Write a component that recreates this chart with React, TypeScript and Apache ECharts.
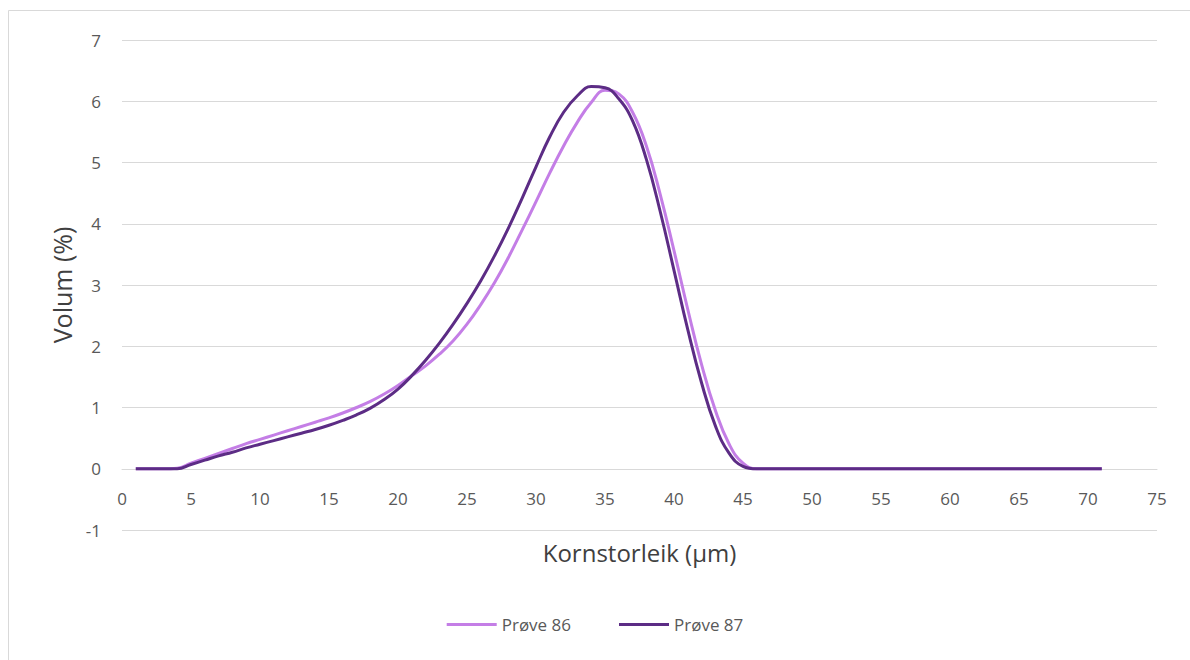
import React, { useEffect, useRef } from "react";
import * as echarts from "echarts";

// Grain size (µm) at which each volume fraction was measured
const sizes = [
  1, 2, 3, 4, 5, 6, 7, 8, 9, 10, 11, 12, 13, 14, 15, 16, 17, 18, 19, 20, 21, 22, 23,
  24, 25, 26, 27, 28, 29, 30, 31, 32, 33, 34, 35, 36, 37, 38, 39, 40, 41, 42, 43, 44,
  45, 46, 50, 55, 60, 65, 70, 71,
];

// Volume (%) per grain size
const prove86 = [
  0, 0, 0, 0.01, 0.09, 0.17, 0.25, 0.33, 0.41, 0.48, 0.55, 0.62, 0.69, 0.76, 0.83,
  0.91, 1.0, 1.1, 1.22, 1.36, 1.52, 1.68, 1.87, 2.09, 2.36, 2.68, 3.04, 3.45, 3.9,
  4.36, 4.83, 5.27, 5.66, 5.98, 6.18, 6.12, 5.82, 5.27, 4.48, 3.56, 2.6, 1.7, 0.95,
  0.4, 0.09, 0, 0, 0, 0, 0, 0, 0,
];

const prove87 = [
  0, 0, 0, 0, 0.07, 0.14, 0.21, 0.27, 0.34, 0.4, 0.46, 0.52, 0.58, 0.64, 0.71, 0.79,
  0.88, 0.99, 1.13, 1.3, 1.52, 1.77, 2.05, 2.36, 2.7, 3.07, 3.48, 3.93, 4.42, 4.93,
  5.42, 5.82, 6.09, 6.24, 6.22, 6.04, 5.68, 5.05, 4.2, 3.24, 2.27, 1.4, 0.7, 0.25, 0.04,
  0, 0, 0, 0, 0, 0, 0,
];

const seriesNames = ["Prøve 86", "Prøve 87"];
const seriesColors = ["#c47ee6", "#5c2c85"];

const FONT = "'Open Sans', 'Noto Sans', sans-serif";

export default function App() {
  const ref = useRef<HTMLDivElement>(null);

  useEffect(() => {
    if (!ref.current) return;
    const chart = echarts.init(ref.current, undefined, { renderer: "svg" });
    const pairs = (vals: number[]) => sizes.map((x, i) => [x, vals[i]]);

    // Plot area: y from -1 to 7 over 490 px, so the zero line sits 61.25 px above the bottom
    const plotHeight = 490;
    const zeroOffset = -plotHeight / 8;

    chart.setOption({
      animation: false,
      backgroundColor: "#ffffff",
      textStyle: { fontFamily: FONT },
      graphic: [
        {
          type: "rect",
          shape: { x: 8.5, y: 10.5, width: 1200, height: 700 },
          style: { fill: "none", stroke: "#d9d9d9", lineWidth: 1 },
          silent: true,
        },
      ],
      grid: { left: 122, right: 33, top: 40, height: plotHeight, containLabel: false },
      legend: {
        bottom: 22,
        left: "center",
        icon: "rect",
        itemWidth: 50,
        itemHeight: 3,
        itemGap: 48,
        textStyle: { color: "#595959", fontSize: 17, fontFamily: FONT },
        data: seriesNames,
      },
      xAxis: {
        type: "value",
        min: 0,
        max: 75,
        interval: 5,
        offset: zeroOffset,
        name: "Kornstorleik (µm)",
        nameLocation: "middle",
        nameGap: 72,
        nameTextStyle: { color: "#404040", fontSize: 24 },
        axisLine: { show: true, onZero: false, lineStyle: { color: "#d9d9d9" } },
        axisTick: { show: false },
        axisLabel: { color: "#595959", fontSize: 17, margin: 21 },
        splitLine: { show: false },
      },
      yAxis: {
        type: "value",
        min: -1,
        max: 7,
        interval: 1,
        name: "Volum (%)",
        nameLocation: "middle",
        nameGap: 47,
        nameTextStyle: { color: "#404040", fontSize: 25 },
        axisLine: { show: false, onZero: false },
        axisTick: { show: false },
        axisLabel: { color: "#595959", fontSize: 17, margin: 21 },
        splitLine: { show: true, lineStyle: { color: "#d9d9d9", width: 1 } },
      },
      series: [prove86, prove87].map((vals, i) => ({
        name: seriesNames[i],
        type: "line",
        data: pairs(vals),
        smooth: 0.45,
        showSymbol: false,
        symbol: "none",
        lineStyle: { color: seriesColors[i], width: 3 },
        itemStyle: { color: seriesColors[i] },
      })),
    });

    return () => chart.dispose();
  }, []);

  return (
    <div
      ref={ref}
      style={{ position: "fixed", left: 0, top: 0, width: 1190, height: 660 }}
    />
  );
}
